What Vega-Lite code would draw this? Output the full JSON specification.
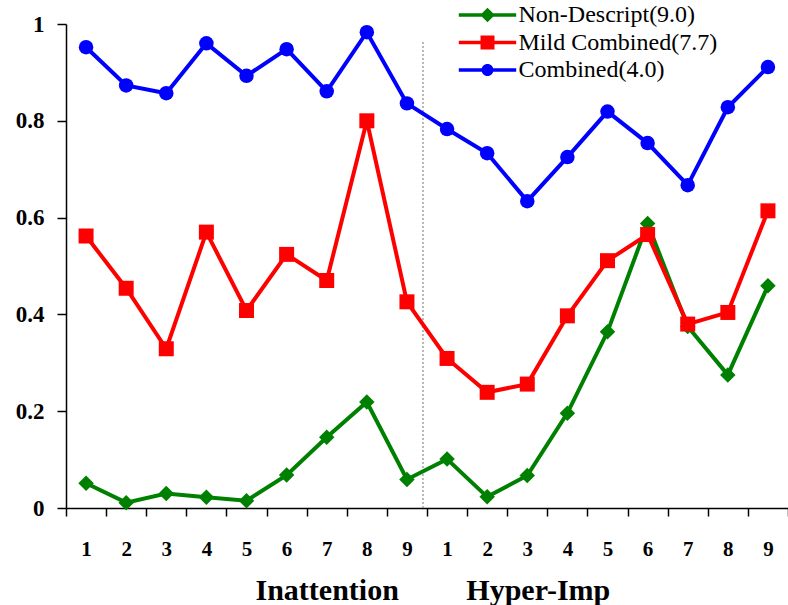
{
  "$schema": "https://vega.github.io/schema/vega-lite/v6.json",
  "width": 722,
  "height": 484,
  "autosize": {"type": "none"},
  "padding": {"left": 66, "top": 24, "right": 0, "bottom": 97},
  "background": "white",
  "config": {
    "view": {"stroke": null},
    "font": "Liberation Serif",
    "legend": {"labelFont": "Liberation Serif", "labelFontSize": 24, "labelColor": "black"},
    "axisX": {
      "domainColor": "black", "domainWidth": 1.5, "tickColor": "black", "tickWidth": 1.5, "tickSize": 8,
      "tickBand": "extent", "labelAngle": 0, "labelFont": "Liberation Serif", "labelFontWeight": "bold",
      "labelFontSize": 21, "labelColor": "black", "labelPadding": 22, "grid": false,
      "titleFont": "Liberation Serif", "titleFontWeight": "bold", "titleFontSize": 30, "titleColor": "black",
      "titleAnchor": "start", "titleAlign": "left", "titleX": 189, "titleY": 91, "titleBaseline": "alphabetic"
    },
    "axisY": {
      "domainColor": "black", "domainWidth": 1.5, "tickColor": "black", "tickWidth": 1.5, "tickSize": 9,
      "labelFont": "Liberation Serif", "labelFontWeight": "bold", "labelFontSize": 23, "labelColor": "black",
      "labelPadding": 13, "grid": false
    }
  },
  "datasets": {
    "main": [
      {"series": "Non-Descript(9.0)", "k": 1, "v": 0.051},
      {"series": "Non-Descript(9.0)", "k": 2, "v": 0.011},
      {"series": "Non-Descript(9.0)", "k": 3, "v": 0.030},
      {"series": "Non-Descript(9.0)", "k": 4, "v": 0.022},
      {"series": "Non-Descript(9.0)", "k": 5, "v": 0.015},
      {"series": "Non-Descript(9.0)", "k": 6, "v": 0.068},
      {"series": "Non-Descript(9.0)", "k": 7, "v": 0.146},
      {"series": "Non-Descript(9.0)", "k": 8, "v": 0.219},
      {"series": "Non-Descript(9.0)", "k": 9, "v": 0.059},
      {"series": "Non-Descript(9.0)", "k": 10, "v": 0.101},
      {"series": "Non-Descript(9.0)", "k": 11, "v": 0.023},
      {"series": "Non-Descript(9.0)", "k": 12, "v": 0.067},
      {"series": "Non-Descript(9.0)", "k": 13, "v": 0.196},
      {"series": "Non-Descript(9.0)", "k": 14, "v": 0.364},
      {"series": "Non-Descript(9.0)", "k": 15, "v": 0.588},
      {"series": "Non-Descript(9.0)", "k": 16, "v": 0.375},
      {"series": "Non-Descript(9.0)", "k": 17, "v": 0.275},
      {"series": "Non-Descript(9.0)", "k": 18, "v": 0.459},
      {"series": "Mild Combined(7.7)", "k": 1, "v": 0.562},
      {"series": "Mild Combined(7.7)", "k": 2, "v": 0.454},
      {"series": "Mild Combined(7.7)", "k": 3, "v": 0.329},
      {"series": "Mild Combined(7.7)", "k": 4, "v": 0.570},
      {"series": "Mild Combined(7.7)", "k": 5, "v": 0.408},
      {"series": "Mild Combined(7.7)", "k": 6, "v": 0.524},
      {"series": "Mild Combined(7.7)", "k": 7, "v": 0.470},
      {"series": "Mild Combined(7.7)", "k": 8, "v": 0.800},
      {"series": "Mild Combined(7.7)", "k": 9, "v": 0.426},
      {"series": "Mild Combined(7.7)", "k": 10, "v": 0.309},
      {"series": "Mild Combined(7.7)", "k": 11, "v": 0.239},
      {"series": "Mild Combined(7.7)", "k": 12, "v": 0.256},
      {"series": "Mild Combined(7.7)", "k": 13, "v": 0.397},
      {"series": "Mild Combined(7.7)", "k": 14, "v": 0.511},
      {"series": "Mild Combined(7.7)", "k": 15, "v": 0.565},
      {"series": "Mild Combined(7.7)", "k": 16, "v": 0.380},
      {"series": "Mild Combined(7.7)", "k": 17, "v": 0.404},
      {"series": "Mild Combined(7.7)", "k": 18, "v": 0.614},
      {"series": "Combined(4.0)", "k": 1, "v": 0.952},
      {"series": "Combined(4.0)", "k": 2, "v": 0.873},
      {"series": "Combined(4.0)", "k": 3, "v": 0.857},
      {"series": "Combined(4.0)", "k": 4, "v": 0.960},
      {"series": "Combined(4.0)", "k": 5, "v": 0.893},
      {"series": "Combined(4.0)", "k": 6, "v": 0.948},
      {"series": "Combined(4.0)", "k": 7, "v": 0.861},
      {"series": "Combined(4.0)", "k": 8, "v": 0.983},
      {"series": "Combined(4.0)", "k": 9, "v": 0.836},
      {"series": "Combined(4.0)", "k": 10, "v": 0.783},
      {"series": "Combined(4.0)", "k": 11, "v": 0.733},
      {"series": "Combined(4.0)", "k": 12, "v": 0.634},
      {"series": "Combined(4.0)", "k": 13, "v": 0.725},
      {"series": "Combined(4.0)", "k": 14, "v": 0.819},
      {"series": "Combined(4.0)", "k": 15, "v": 0.754},
      {"series": "Combined(4.0)", "k": 16, "v": 0.667},
      {"series": "Combined(4.0)", "k": 17, "v": 0.828},
      {"series": "Combined(4.0)", "k": 18, "v": 0.911}
    ],
    "leg": [
      {"lg": "Non-Descript(9.0)"},
      {"lg": "Mild Combined(7.7)"},
      {"lg": "Combined(4.0)"}
    ]
  },
  "layer": [
    {
      "data": {"values": [{"k": 9}]},
      "mark": {"type": "rule", "color": "#8c8c8c", "strokeWidth": 1.2, "strokeDash": [2, 2]},
      "encoding": {
        "x": {"field": "k", "type": "ordinal", "bandPosition": 0.9, "title": "Inattention\u00a0\u00a0\u00a0\u00a0\u00a0\u00a0\u00a0\u00a0\u00a0Hyper-Imp",
          "axis": {"labelExpr": "datum.value > 0 ? (datum.value - 1) % 9 + 1 : ''"}},
        "y": {"datum": 0, "type": "quantitative", "scale": {"domain": [0, 1]}, "title": null,
          "axis": {"values": [0, 0.2, 0.4, 0.6, 0.8, 1], "labelExpr": "datum.value == 0 ? '0' : datum.value == 1 ? '1' : format(datum.value, '.1f')"}},
        "y2": {"datum": 0.967}
      }
    },
    {
      "data": {"name": "main"},
      "mark": {"type": "line", "strokeWidth": 4},
      "encoding": {
        "x": {"field": "k", "type": "ordinal", "title": "Inattention\u00a0\u00a0\u00a0\u00a0\u00a0\u00a0\u00a0\u00a0\u00a0Hyper-Imp",
          "axis": {"labelExpr": "datum.value > 0 ? (datum.value - 1) % 9 + 1 : ''"}},
        "y": {"field": "v", "type": "quantitative", "scale": {"domain": [0, 1]}, "title": null,
          "axis": {"values": [0, 0.2, 0.4, 0.6, 0.8, 1], "labelExpr": "datum.value == 0 ? '0' : datum.value == 1 ? '1' : format(datum.value, '.1f')"}},
        "color": {"field": "series", "type": "nominal", "legend": null,
          "scale": {"domain": ["Non-Descript(9.0)", "Mild Combined(7.7)", "Combined(4.0)"], "range": ["#008000", "#ff0000", "#0000ff"]}}
      }
    },
    {
      "data": {"name": "main"},
      "mark": {"type": "point", "filled": true, "opacity": 1},
      "encoding": {
        "x": {"field": "k", "type": "ordinal", "title": "Inattention\u00a0\u00a0\u00a0\u00a0\u00a0\u00a0\u00a0\u00a0\u00a0Hyper-Imp",
          "axis": {"labelExpr": "datum.value > 0 ? (datum.value - 1) % 9 + 1 : ''"}},
        "y": {"field": "v", "type": "quantitative", "scale": {"domain": [0, 1]}, "title": null,
          "axis": {"values": [0, 0.2, 0.4, 0.6, 0.8, 1], "labelExpr": "datum.value == 0 ? '0' : datum.value == 1 ? '1' : format(datum.value, '.1f')"}},
        "color": {"field": "series", "type": "nominal", "legend": null,
          "scale": {"domain": ["Non-Descript(9.0)", "Mild Combined(7.7)", "Combined(4.0)"], "range": ["#008000", "#ff0000", "#0000ff"]}},
        "shape": {"field": "series", "type": "nominal", "legend": null,
          "scale": {"domain": ["Non-Descript(9.0)", "Mild Combined(7.7)", "Combined(4.0)"], "range": ["diamond", "square", "circle"]}},
        "size": {"field": "series", "type": "nominal", "legend": null,
          "scale": {"domain": ["Non-Descript(9.0)", "Mild Combined(7.7)", "Combined(4.0)"], "range": [240, 210, 160]}}
      }
    },
    {
      "data": {"name": "leg"},
      "mark": {"type": "point", "filled": true, "opacity": 0, "size": 196},
      "encoding": {
        "color": {"field": "lg", "type": "nominal",
          "scale": {"domain": ["Non-Descript(9.0)", "Mild Combined(7.7)", "Combined(4.0)"], "range": ["#008000", "#ff0000", "#0000ff"]},
          "legend": {"orient": "none", "legendX": 409.5, "legendY": -21, "title": null, "padding": 0,
            "labelFont": "Liberation Serif", "labelFontSize": 24, "labelColor": "black", "symbolSize": 196,
            "symbolStrokeWidth": 0, "symbolOpacity": 1, "labelOffset": 19, "rowPadding": 3.5, "labelLimit": 400,
            "encode": {"symbols": {"update": {"opacity": {"value": 1}, "fillOpacity": {"value": 1}}},
                       "labels": {"update": {"font": {"value": "Liberation Serif"}}}}}},
        "shape": {"field": "lg", "type": "nominal",
          "scale": {"domain": ["Non-Descript(9.0)", "Mild Combined(7.7)", "Combined(4.0)"],
            "range": [
              "M-4.1,-0.25H4.1V0.25H-4.1Z M0,-1.05L1.05,0L0,1.05L-1.05,0Z",
              "M-4.1,-0.25H4.1V0.25H-4.1Z M-1,-1H1V1H-1Z",
              "M-4.1,-0.25H4.1V0.25H-4.1Z M-0.86,0A0.86,0.86 0 1,1 0.86,0A0.86,0.86 0 1,1 -0.86,0Z"
            ]}}
      }
    }
  ],
  "resolve": {"scale": {"color": "independent", "shape": "independent"}}
}
